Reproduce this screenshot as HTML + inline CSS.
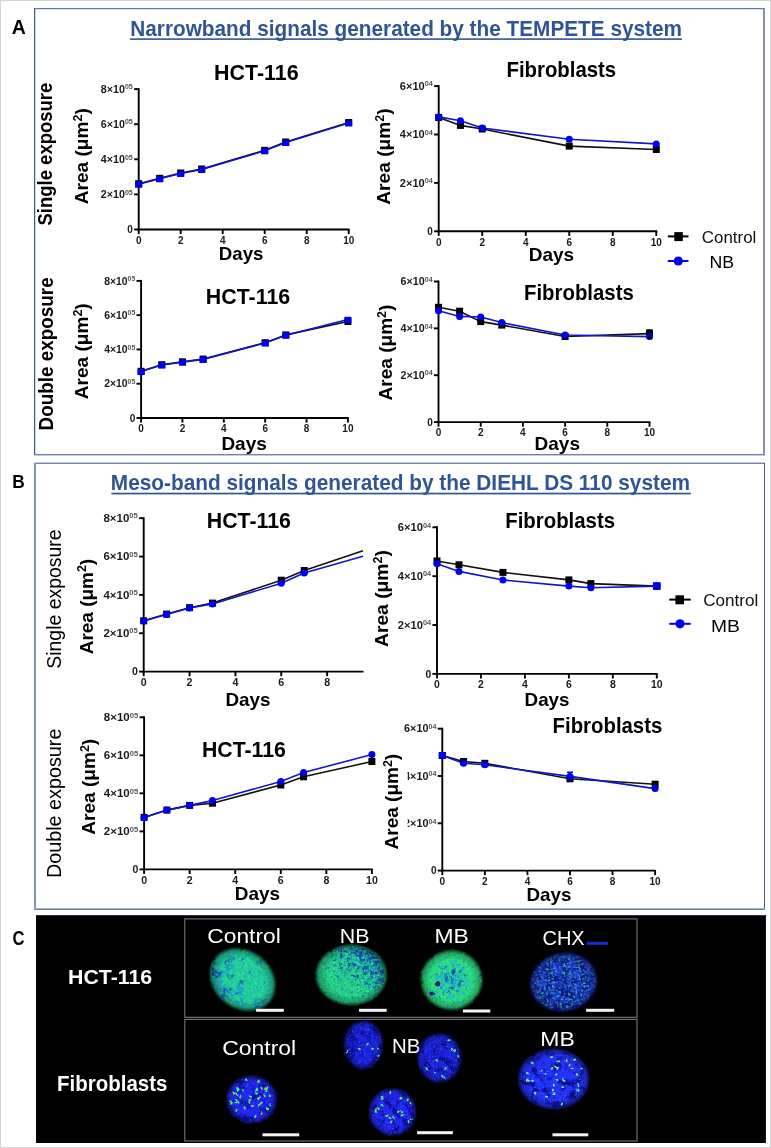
<!DOCTYPE html><html><head><meta charset="utf-8"><style>html,body{margin:0;padding:0;background:#fff;} svg{display:block;will-change:transform;} text{font-family:"Liberation Sans", sans-serif;}</style></head><body>
<svg width="771" height="1148" viewBox="0 0 771 1148">
<rect x="0" y="0" width="771" height="1148" fill="#fff"/>
<rect x="0.5" y="0.5" width="770" height="1147" fill="none" stroke="#d4d4d4" stroke-width="1"/>
<rect x="34" y="8" width="731" height="1" fill="#6a7a9a"/>
<rect x="35" y="9" width="728" height="1" fill="#d0dcf0"/>
<rect x="34" y="8" width="1" height="447" fill="#4a5878"/>
<rect x="35" y="9" width="1" height="445" fill="#c8d6f0"/>
<rect x="763" y="8" width="2" height="447" fill="#8890a8"/>
<rect x="34" y="454" width="731" height="1" fill="#7484a6"/>
<rect x="34" y="455" width="731" height="1" fill="#c0cce4"/>
<rect x="34" y="462" width="731" height="1" fill="#c0cce4"/>
<rect x="34" y="463" width="731" height="1" fill="#7585a5"/>
<rect x="34" y="463" width="2" height="447" fill="#8292b8"/>
<rect x="764" y="463" width="1" height="447" fill="#4a5878"/>
<rect x="34" y="908" width="731" height="1" fill="#a0b0d0"/>
<rect x="34" y="909" width="731" height="1" fill="#6e7ea0"/>
<text x="11.80" y="33.60" font-size="19.5" font-weight="bold" fill="#000" text-anchor="start" >A</text>
<text x="12.30" y="487.80" font-size="19" font-weight="bold" fill="#000" text-anchor="start" textLength="12.50" lengthAdjust="spacingAndGlyphs" >B</text>
<text x="12.60" y="945.40" font-size="19.5" font-weight="bold" fill="#000" text-anchor="start" textLength="12.00" lengthAdjust="spacingAndGlyphs" >C</text>
<text x="130.30" y="35.80" font-size="22.3" font-weight="bold" fill="#2f5597" text-anchor="start" textLength="551.70" lengthAdjust="spacingAndGlyphs" >Narrowband signals generated by the TEMPETE system</text>
<rect x="130" y="38.3" width="552" height="1.6" fill="#2f5597"/>
<text x="110.80" y="490.00" font-size="22.3" font-weight="bold" fill="#2f5597" text-anchor="start" textLength="579.20" lengthAdjust="spacingAndGlyphs" >Meso-band signals generated by the DIEHL DS 110 system</text>
<rect x="111.4" y="492.7" width="579.3" height="1.7" fill="#2f5597"/>
<line x1="138.70" y1="88.15" x2="138.70" y2="230.45" stroke="#000" stroke-width="1.9"/>
<line x1="137.75" y1="229.50" x2="349.65" y2="229.50" stroke="#000" stroke-width="1.9"/>
<line x1="134.10" y1="229.50" x2="138.70" y2="229.50" stroke="#000" stroke-width="1.9"/>
<line x1="134.10" y1="194.40" x2="138.70" y2="194.40" stroke="#000" stroke-width="1.9"/>
<line x1="134.10" y1="159.30" x2="138.70" y2="159.30" stroke="#000" stroke-width="1.9"/>
<line x1="134.10" y1="124.20" x2="138.70" y2="124.20" stroke="#000" stroke-width="1.9"/>
<line x1="134.10" y1="89.10" x2="138.70" y2="89.10" stroke="#000" stroke-width="1.9"/>
<line x1="138.70" y1="229.50" x2="138.70" y2="234.10" stroke="#000" stroke-width="1.9"/>
<line x1="180.70" y1="229.50" x2="180.70" y2="234.10" stroke="#000" stroke-width="1.9"/>
<line x1="222.70" y1="229.50" x2="222.70" y2="234.10" stroke="#000" stroke-width="1.9"/>
<line x1="264.70" y1="229.50" x2="264.70" y2="234.10" stroke="#000" stroke-width="1.9"/>
<line x1="306.70" y1="229.50" x2="306.70" y2="234.10" stroke="#000" stroke-width="1.9"/>
<line x1="348.70" y1="229.50" x2="348.70" y2="234.10" stroke="#000" stroke-width="1.9"/>
<text x="138.70" y="243.70" font-size="10" font-weight="bold" fill="#1a1a1a" text-anchor="middle" >0</text>
<text x="180.70" y="243.70" font-size="10" font-weight="bold" fill="#1a1a1a" text-anchor="middle" >2</text>
<text x="222.70" y="243.70" font-size="10" font-weight="bold" fill="#1a1a1a" text-anchor="middle" >4</text>
<text x="264.70" y="243.70" font-size="10" font-weight="bold" fill="#1a1a1a" text-anchor="middle" >6</text>
<text x="306.70" y="243.70" font-size="10" font-weight="bold" fill="#1a1a1a" text-anchor="middle" >8</text>
<text x="348.70" y="243.70" font-size="10" font-weight="bold" fill="#1a1a1a" text-anchor="middle" >10</text>
<text x="132.90" y="233.10" font-size="10" font-weight="bold" fill="#1a1a1a" text-anchor="end" >0</text>
<text x="100.80" y="198.00" font-size="10" font-weight="bold" fill="#1a1a1a" textLength="32.00" lengthAdjust="spacingAndGlyphs">2×10<tspan font-size="6.60" font-weight="bold" fill="#555" dy="-3.4">05</tspan></text>
<text x="100.80" y="162.90" font-size="10" font-weight="bold" fill="#1a1a1a" textLength="32.00" lengthAdjust="spacingAndGlyphs">4×10<tspan font-size="6.60" font-weight="bold" fill="#555" dy="-3.4">05</tspan></text>
<text x="100.80" y="127.80" font-size="10" font-weight="bold" fill="#1a1a1a" textLength="32.00" lengthAdjust="spacingAndGlyphs">6×10<tspan font-size="6.60" font-weight="bold" fill="#555" dy="-3.4">05</tspan></text>
<text x="100.80" y="92.70" font-size="10" font-weight="bold" fill="#1a1a1a" textLength="32.00" lengthAdjust="spacingAndGlyphs">8×10<tspan font-size="6.60" font-weight="bold" fill="#555" dy="-3.4">05</tspan></text>
<line x1="438.70" y1="85.15" x2="438.70" y2="232.25" stroke="#000" stroke-width="1.9"/>
<line x1="437.75" y1="231.30" x2="657.25" y2="231.30" stroke="#000" stroke-width="1.9"/>
<line x1="434.10" y1="231.30" x2="438.70" y2="231.30" stroke="#000" stroke-width="1.9"/>
<line x1="434.10" y1="182.90" x2="438.70" y2="182.90" stroke="#000" stroke-width="1.9"/>
<line x1="434.10" y1="134.50" x2="438.70" y2="134.50" stroke="#000" stroke-width="1.9"/>
<line x1="434.10" y1="86.10" x2="438.70" y2="86.10" stroke="#000" stroke-width="1.9"/>
<line x1="438.70" y1="231.30" x2="438.70" y2="235.90" stroke="#000" stroke-width="1.9"/>
<line x1="482.22" y1="231.30" x2="482.22" y2="235.90" stroke="#000" stroke-width="1.9"/>
<line x1="525.74" y1="231.30" x2="525.74" y2="235.90" stroke="#000" stroke-width="1.9"/>
<line x1="569.26" y1="231.30" x2="569.26" y2="235.90" stroke="#000" stroke-width="1.9"/>
<line x1="612.78" y1="231.30" x2="612.78" y2="235.90" stroke="#000" stroke-width="1.9"/>
<line x1="656.30" y1="231.30" x2="656.30" y2="235.90" stroke="#000" stroke-width="1.9"/>
<text x="438.70" y="245.50" font-size="10" font-weight="bold" fill="#1a1a1a" text-anchor="middle" >0</text>
<text x="482.22" y="245.50" font-size="10" font-weight="bold" fill="#1a1a1a" text-anchor="middle" >2</text>
<text x="525.74" y="245.50" font-size="10" font-weight="bold" fill="#1a1a1a" text-anchor="middle" >4</text>
<text x="569.26" y="245.50" font-size="10" font-weight="bold" fill="#1a1a1a" text-anchor="middle" >6</text>
<text x="612.78" y="245.50" font-size="10" font-weight="bold" fill="#1a1a1a" text-anchor="middle" >8</text>
<text x="656.30" y="245.50" font-size="10" font-weight="bold" fill="#1a1a1a" text-anchor="middle" >10</text>
<text x="432.90" y="234.90" font-size="10" font-weight="bold" fill="#1a1a1a" text-anchor="end" >0</text>
<text x="399.80" y="186.50" font-size="10" font-weight="bold" fill="#1a1a1a" textLength="33.00" lengthAdjust="spacingAndGlyphs">2×10<tspan font-size="6.60" font-weight="bold" fill="#555" dy="-3.4">04</tspan></text>
<text x="399.80" y="138.10" font-size="10" font-weight="bold" fill="#1a1a1a" textLength="33.00" lengthAdjust="spacingAndGlyphs">4×10<tspan font-size="6.60" font-weight="bold" fill="#555" dy="-3.4">04</tspan></text>
<text x="399.80" y="89.70" font-size="10" font-weight="bold" fill="#1a1a1a" textLength="33.00" lengthAdjust="spacingAndGlyphs">6×10<tspan font-size="6.60" font-weight="bold" fill="#555" dy="-3.4">04</tspan></text>
<line x1="141.10" y1="279.95" x2="141.10" y2="418.95" stroke="#000" stroke-width="1.9"/>
<line x1="140.15" y1="418.00" x2="348.85" y2="418.00" stroke="#000" stroke-width="1.9"/>
<line x1="136.50" y1="418.00" x2="141.10" y2="418.00" stroke="#000" stroke-width="1.9"/>
<line x1="136.50" y1="383.73" x2="141.10" y2="383.73" stroke="#000" stroke-width="1.9"/>
<line x1="136.50" y1="349.45" x2="141.10" y2="349.45" stroke="#000" stroke-width="1.9"/>
<line x1="136.50" y1="315.17" x2="141.10" y2="315.17" stroke="#000" stroke-width="1.9"/>
<line x1="136.50" y1="280.90" x2="141.10" y2="280.90" stroke="#000" stroke-width="1.9"/>
<line x1="141.10" y1="418.00" x2="141.10" y2="422.60" stroke="#000" stroke-width="1.9"/>
<line x1="182.46" y1="418.00" x2="182.46" y2="422.60" stroke="#000" stroke-width="1.9"/>
<line x1="223.82" y1="418.00" x2="223.82" y2="422.60" stroke="#000" stroke-width="1.9"/>
<line x1="265.18" y1="418.00" x2="265.18" y2="422.60" stroke="#000" stroke-width="1.9"/>
<line x1="306.54" y1="418.00" x2="306.54" y2="422.60" stroke="#000" stroke-width="1.9"/>
<line x1="347.90" y1="418.00" x2="347.90" y2="422.60" stroke="#000" stroke-width="1.9"/>
<text x="141.10" y="432.20" font-size="10" font-weight="bold" fill="#1a1a1a" text-anchor="middle" >0</text>
<text x="182.46" y="432.20" font-size="10" font-weight="bold" fill="#1a1a1a" text-anchor="middle" >2</text>
<text x="223.82" y="432.20" font-size="10" font-weight="bold" fill="#1a1a1a" text-anchor="middle" >4</text>
<text x="265.18" y="432.20" font-size="10" font-weight="bold" fill="#1a1a1a" text-anchor="middle" >6</text>
<text x="306.54" y="432.20" font-size="10" font-weight="bold" fill="#1a1a1a" text-anchor="middle" >8</text>
<text x="347.90" y="432.20" font-size="10" font-weight="bold" fill="#1a1a1a" text-anchor="middle" >10</text>
<text x="135.30" y="421.60" font-size="10" font-weight="bold" fill="#1a1a1a" text-anchor="end" >0</text>
<text x="104.20" y="387.33" font-size="10" font-weight="bold" fill="#1a1a1a" textLength="31.00" lengthAdjust="spacingAndGlyphs">2×10<tspan font-size="6.60" font-weight="bold" fill="#555" dy="-3.4">05</tspan></text>
<text x="104.20" y="353.05" font-size="10" font-weight="bold" fill="#1a1a1a" textLength="31.00" lengthAdjust="spacingAndGlyphs">4×10<tspan font-size="6.60" font-weight="bold" fill="#555" dy="-3.4">05</tspan></text>
<text x="104.20" y="318.77" font-size="10" font-weight="bold" fill="#1a1a1a" textLength="31.00" lengthAdjust="spacingAndGlyphs">6×10<tspan font-size="6.60" font-weight="bold" fill="#555" dy="-3.4">05</tspan></text>
<text x="104.20" y="284.50" font-size="10" font-weight="bold" fill="#1a1a1a" textLength="31.00" lengthAdjust="spacingAndGlyphs">8×10<tspan font-size="6.60" font-weight="bold" fill="#555" dy="-3.4">05</tspan></text>
<line x1="438.50" y1="280.55" x2="438.50" y2="423.05" stroke="#000" stroke-width="1.9"/>
<line x1="437.55" y1="422.10" x2="650.45" y2="422.10" stroke="#000" stroke-width="1.9"/>
<line x1="433.90" y1="422.10" x2="438.50" y2="422.10" stroke="#000" stroke-width="1.9"/>
<line x1="433.90" y1="375.23" x2="438.50" y2="375.23" stroke="#000" stroke-width="1.9"/>
<line x1="433.90" y1="328.37" x2="438.50" y2="328.37" stroke="#000" stroke-width="1.9"/>
<line x1="433.90" y1="281.50" x2="438.50" y2="281.50" stroke="#000" stroke-width="1.9"/>
<line x1="438.50" y1="422.10" x2="438.50" y2="426.70" stroke="#000" stroke-width="1.9"/>
<line x1="480.70" y1="422.10" x2="480.70" y2="426.70" stroke="#000" stroke-width="1.9"/>
<line x1="522.90" y1="422.10" x2="522.90" y2="426.70" stroke="#000" stroke-width="1.9"/>
<line x1="565.10" y1="422.10" x2="565.10" y2="426.70" stroke="#000" stroke-width="1.9"/>
<line x1="607.30" y1="422.10" x2="607.30" y2="426.70" stroke="#000" stroke-width="1.9"/>
<line x1="649.50" y1="422.10" x2="649.50" y2="426.70" stroke="#000" stroke-width="1.9"/>
<text x="438.50" y="436.30" font-size="10" font-weight="bold" fill="#1a1a1a" text-anchor="middle" >0</text>
<text x="480.70" y="436.30" font-size="10" font-weight="bold" fill="#1a1a1a" text-anchor="middle" >2</text>
<text x="522.90" y="436.30" font-size="10" font-weight="bold" fill="#1a1a1a" text-anchor="middle" >4</text>
<text x="565.10" y="436.30" font-size="10" font-weight="bold" fill="#1a1a1a" text-anchor="middle" >6</text>
<text x="607.30" y="436.30" font-size="10" font-weight="bold" fill="#1a1a1a" text-anchor="middle" >8</text>
<text x="649.50" y="436.30" font-size="10" font-weight="bold" fill="#1a1a1a" text-anchor="middle" >10</text>
<text x="432.70" y="425.70" font-size="10" font-weight="bold" fill="#1a1a1a" text-anchor="end" >0</text>
<text x="400.60" y="378.83" font-size="10" font-weight="bold" fill="#1a1a1a" textLength="32.00" lengthAdjust="spacingAndGlyphs">2×10<tspan font-size="6.60" font-weight="bold" fill="#555" dy="-3.4">04</tspan></text>
<text x="400.60" y="331.97" font-size="10" font-weight="bold" fill="#1a1a1a" textLength="32.00" lengthAdjust="spacingAndGlyphs">4×10<tspan font-size="6.60" font-weight="bold" fill="#555" dy="-3.4">04</tspan></text>
<text x="400.60" y="285.10" font-size="10" font-weight="bold" fill="#1a1a1a" textLength="32.00" lengthAdjust="spacingAndGlyphs">6×10<tspan font-size="6.60" font-weight="bold" fill="#555" dy="-3.4">04</tspan></text>
<line x1="143.70" y1="517.25" x2="143.70" y2="672.55" stroke="#000" stroke-width="1.9"/>
<line x1="142.75" y1="671.60" x2="363.55" y2="671.60" stroke="#000" stroke-width="1.9"/>
<line x1="139.10" y1="671.60" x2="143.70" y2="671.60" stroke="#000" stroke-width="1.9"/>
<line x1="139.10" y1="633.25" x2="143.70" y2="633.25" stroke="#000" stroke-width="1.9"/>
<line x1="139.10" y1="594.90" x2="143.70" y2="594.90" stroke="#000" stroke-width="1.9"/>
<line x1="139.10" y1="556.55" x2="143.70" y2="556.55" stroke="#000" stroke-width="1.9"/>
<line x1="139.10" y1="518.20" x2="143.70" y2="518.20" stroke="#000" stroke-width="1.9"/>
<line x1="143.70" y1="671.60" x2="143.70" y2="676.20" stroke="#000" stroke-width="1.9"/>
<line x1="189.56" y1="671.60" x2="189.56" y2="676.20" stroke="#000" stroke-width="1.9"/>
<line x1="235.42" y1="671.60" x2="235.42" y2="676.20" stroke="#000" stroke-width="1.9"/>
<line x1="281.28" y1="671.60" x2="281.28" y2="676.20" stroke="#000" stroke-width="1.9"/>
<line x1="327.14" y1="671.60" x2="327.14" y2="676.20" stroke="#000" stroke-width="1.9"/>
<text x="143.70" y="685.80" font-size="10.6" font-weight="bold" fill="#1a1a1a" text-anchor="middle" >0</text>
<text x="189.56" y="685.80" font-size="10.6" font-weight="bold" fill="#1a1a1a" text-anchor="middle" >2</text>
<text x="235.42" y="685.80" font-size="10.6" font-weight="bold" fill="#1a1a1a" text-anchor="middle" >4</text>
<text x="281.28" y="685.80" font-size="10.6" font-weight="bold" fill="#1a1a1a" text-anchor="middle" >6</text>
<text x="327.14" y="685.80" font-size="10.6" font-weight="bold" fill="#1a1a1a" text-anchor="middle" >8</text>
<text x="137.90" y="675.20" font-size="10.6" font-weight="bold" fill="#1a1a1a" text-anchor="end" >0</text>
<text x="103.40" y="636.85" font-size="10.6" font-weight="bold" fill="#1a1a1a" textLength="34.40" lengthAdjust="spacingAndGlyphs">2×10<tspan font-size="7.00" font-weight="bold" fill="#555" dy="-3.4">05</tspan></text>
<text x="103.40" y="598.50" font-size="10.6" font-weight="bold" fill="#1a1a1a" textLength="34.40" lengthAdjust="spacingAndGlyphs">4×10<tspan font-size="7.00" font-weight="bold" fill="#555" dy="-3.4">05</tspan></text>
<text x="103.40" y="560.15" font-size="10.6" font-weight="bold" fill="#1a1a1a" textLength="34.40" lengthAdjust="spacingAndGlyphs">6×10<tspan font-size="7.00" font-weight="bold" fill="#555" dy="-3.4">05</tspan></text>
<text x="103.40" y="521.80" font-size="10.6" font-weight="bold" fill="#1a1a1a" textLength="34.40" lengthAdjust="spacingAndGlyphs">8×10<tspan font-size="7.00" font-weight="bold" fill="#555" dy="-3.4">05</tspan></text>
<line x1="437.00" y1="526.35" x2="437.00" y2="674.85" stroke="#000" stroke-width="1.9"/>
<line x1="436.05" y1="673.90" x2="657.75" y2="673.90" stroke="#000" stroke-width="1.9"/>
<line x1="432.40" y1="673.90" x2="437.00" y2="673.90" stroke="#000" stroke-width="1.9"/>
<line x1="432.40" y1="625.03" x2="437.00" y2="625.03" stroke="#000" stroke-width="1.9"/>
<line x1="432.40" y1="576.17" x2="437.00" y2="576.17" stroke="#000" stroke-width="1.9"/>
<line x1="432.40" y1="527.30" x2="437.00" y2="527.30" stroke="#000" stroke-width="1.9"/>
<line x1="437.00" y1="673.90" x2="437.00" y2="678.50" stroke="#000" stroke-width="1.9"/>
<line x1="480.96" y1="673.90" x2="480.96" y2="678.50" stroke="#000" stroke-width="1.9"/>
<line x1="524.92" y1="673.90" x2="524.92" y2="678.50" stroke="#000" stroke-width="1.9"/>
<line x1="568.88" y1="673.90" x2="568.88" y2="678.50" stroke="#000" stroke-width="1.9"/>
<line x1="612.84" y1="673.90" x2="612.84" y2="678.50" stroke="#000" stroke-width="1.9"/>
<line x1="656.80" y1="673.90" x2="656.80" y2="678.50" stroke="#000" stroke-width="1.9"/>
<text x="437.00" y="688.10" font-size="10.4" font-weight="bold" fill="#1a1a1a" text-anchor="middle" >0</text>
<text x="480.96" y="688.10" font-size="10.4" font-weight="bold" fill="#1a1a1a" text-anchor="middle" >2</text>
<text x="524.92" y="688.10" font-size="10.4" font-weight="bold" fill="#1a1a1a" text-anchor="middle" >4</text>
<text x="568.88" y="688.10" font-size="10.4" font-weight="bold" fill="#1a1a1a" text-anchor="middle" >6</text>
<text x="612.84" y="688.10" font-size="10.4" font-weight="bold" fill="#1a1a1a" text-anchor="middle" >8</text>
<text x="656.80" y="688.10" font-size="10.4" font-weight="bold" fill="#1a1a1a" text-anchor="middle" >10</text>
<text x="431.20" y="677.50" font-size="10.4" font-weight="bold" fill="#1a1a1a" text-anchor="end" >0</text>
<text x="397.80" y="628.63" font-size="10.4" font-weight="bold" fill="#1a1a1a" textLength="33.30" lengthAdjust="spacingAndGlyphs">2×10<tspan font-size="6.86" font-weight="bold" fill="#555" dy="-3.4">04</tspan></text>
<text x="397.80" y="579.77" font-size="10.4" font-weight="bold" fill="#1a1a1a" textLength="33.30" lengthAdjust="spacingAndGlyphs">4×10<tspan font-size="6.86" font-weight="bold" fill="#555" dy="-3.4">04</tspan></text>
<text x="397.80" y="530.90" font-size="10.4" font-weight="bold" fill="#1a1a1a" textLength="33.30" lengthAdjust="spacingAndGlyphs">6×10<tspan font-size="6.86" font-weight="bold" fill="#555" dy="-3.4">04</tspan></text>
<line x1="144.10" y1="716.35" x2="144.10" y2="870.35" stroke="#000" stroke-width="1.9"/>
<line x1="143.15" y1="869.40" x2="372.85" y2="869.40" stroke="#000" stroke-width="1.9"/>
<line x1="139.50" y1="869.40" x2="144.10" y2="869.40" stroke="#000" stroke-width="1.9"/>
<line x1="139.50" y1="831.38" x2="144.10" y2="831.38" stroke="#000" stroke-width="1.9"/>
<line x1="139.50" y1="793.35" x2="144.10" y2="793.35" stroke="#000" stroke-width="1.9"/>
<line x1="139.50" y1="755.32" x2="144.10" y2="755.32" stroke="#000" stroke-width="1.9"/>
<line x1="139.50" y1="717.30" x2="144.10" y2="717.30" stroke="#000" stroke-width="1.9"/>
<line x1="144.10" y1="869.40" x2="144.10" y2="874.00" stroke="#000" stroke-width="1.9"/>
<line x1="189.66" y1="869.40" x2="189.66" y2="874.00" stroke="#000" stroke-width="1.9"/>
<line x1="235.22" y1="869.40" x2="235.22" y2="874.00" stroke="#000" stroke-width="1.9"/>
<line x1="280.78" y1="869.40" x2="280.78" y2="874.00" stroke="#000" stroke-width="1.9"/>
<line x1="326.34" y1="869.40" x2="326.34" y2="874.00" stroke="#000" stroke-width="1.9"/>
<line x1="371.90" y1="869.40" x2="371.90" y2="874.00" stroke="#000" stroke-width="1.9"/>
<text x="144.10" y="883.60" font-size="10.6" font-weight="bold" fill="#1a1a1a" text-anchor="middle" >0</text>
<text x="189.66" y="883.60" font-size="10.6" font-weight="bold" fill="#1a1a1a" text-anchor="middle" >2</text>
<text x="235.22" y="883.60" font-size="10.6" font-weight="bold" fill="#1a1a1a" text-anchor="middle" >4</text>
<text x="280.78" y="883.60" font-size="10.6" font-weight="bold" fill="#1a1a1a" text-anchor="middle" >6</text>
<text x="326.34" y="883.60" font-size="10.6" font-weight="bold" fill="#1a1a1a" text-anchor="middle" >8</text>
<text x="371.90" y="883.60" font-size="10.6" font-weight="bold" fill="#1a1a1a" text-anchor="middle" >10</text>
<text x="138.30" y="873.00" font-size="10.6" font-weight="bold" fill="#1a1a1a" text-anchor="end" >0</text>
<text x="103.80" y="834.98" font-size="10.6" font-weight="bold" fill="#1a1a1a" textLength="34.40" lengthAdjust="spacingAndGlyphs">2×10<tspan font-size="7.00" font-weight="bold" fill="#555" dy="-3.4">05</tspan></text>
<text x="103.80" y="796.95" font-size="10.6" font-weight="bold" fill="#1a1a1a" textLength="34.40" lengthAdjust="spacingAndGlyphs">4×10<tspan font-size="7.00" font-weight="bold" fill="#555" dy="-3.4">05</tspan></text>
<text x="103.80" y="758.92" font-size="10.6" font-weight="bold" fill="#1a1a1a" textLength="34.40" lengthAdjust="spacingAndGlyphs">6×10<tspan font-size="7.00" font-weight="bold" fill="#555" dy="-3.4">05</tspan></text>
<text x="103.80" y="720.90" font-size="10.6" font-weight="bold" fill="#1a1a1a" textLength="34.40" lengthAdjust="spacingAndGlyphs">8×10<tspan font-size="7.00" font-weight="bold" fill="#555" dy="-3.4">05</tspan></text>
<line x1="442.30" y1="727.75" x2="442.30" y2="871.55" stroke="#000" stroke-width="1.9"/>
<line x1="441.35" y1="870.60" x2="656.05" y2="870.60" stroke="#000" stroke-width="1.9"/>
<line x1="437.70" y1="870.60" x2="442.30" y2="870.60" stroke="#000" stroke-width="1.9"/>
<line x1="437.70" y1="823.30" x2="442.30" y2="823.30" stroke="#000" stroke-width="1.9"/>
<line x1="437.70" y1="776.00" x2="442.30" y2="776.00" stroke="#000" stroke-width="1.9"/>
<line x1="437.70" y1="728.70" x2="442.30" y2="728.70" stroke="#000" stroke-width="1.9"/>
<line x1="442.30" y1="870.60" x2="442.30" y2="875.20" stroke="#000" stroke-width="1.9"/>
<line x1="484.86" y1="870.60" x2="484.86" y2="875.20" stroke="#000" stroke-width="1.9"/>
<line x1="527.42" y1="870.60" x2="527.42" y2="875.20" stroke="#000" stroke-width="1.9"/>
<line x1="569.98" y1="870.60" x2="569.98" y2="875.20" stroke="#000" stroke-width="1.9"/>
<line x1="612.54" y1="870.60" x2="612.54" y2="875.20" stroke="#000" stroke-width="1.9"/>
<line x1="655.10" y1="870.60" x2="655.10" y2="875.20" stroke="#000" stroke-width="1.9"/>
<text x="442.30" y="884.80" font-size="10" font-weight="bold" fill="#1a1a1a" text-anchor="middle" >0</text>
<text x="484.86" y="884.80" font-size="10" font-weight="bold" fill="#1a1a1a" text-anchor="middle" >2</text>
<text x="527.42" y="884.80" font-size="10" font-weight="bold" fill="#1a1a1a" text-anchor="middle" >4</text>
<text x="569.98" y="884.80" font-size="10" font-weight="bold" fill="#1a1a1a" text-anchor="middle" >6</text>
<text x="612.54" y="884.80" font-size="10" font-weight="bold" fill="#1a1a1a" text-anchor="middle" >8</text>
<text x="655.10" y="884.80" font-size="10" font-weight="bold" fill="#1a1a1a" text-anchor="middle" >10</text>
<text x="436.50" y="874.20" font-size="10" font-weight="bold" fill="#1a1a1a" text-anchor="end" >0</text>
<text x="404.10" y="826.90" font-size="10" font-weight="bold" fill="#1a1a1a" textLength="32.30" lengthAdjust="spacingAndGlyphs">2×10<tspan font-size="6.60" font-weight="bold" fill="#555" dy="-3.4">04</tspan></text>
<text x="404.10" y="779.60" font-size="10" font-weight="bold" fill="#1a1a1a" textLength="32.30" lengthAdjust="spacingAndGlyphs">4×10<tspan font-size="6.60" font-weight="bold" fill="#555" dy="-3.4">04</tspan></text>
<text x="404.10" y="732.30" font-size="10" font-weight="bold" fill="#1a1a1a" textLength="32.30" lengthAdjust="spacingAndGlyphs">6×10<tspan font-size="6.60" font-weight="bold" fill="#555" dy="-3.4">04</tspan></text>
<polyline points="138.70,183.70 159.70,178.30 180.70,173.00 201.70,169.00 264.70,150.30 285.70,142.00 348.70,122.50" fill="none" stroke="#111" stroke-width="1.6" stroke-linejoin="round"/>
<polyline points="138.70,184.20 159.70,178.80 180.70,173.50 201.70,169.50 264.70,150.80 285.70,142.50 348.70,123.00" fill="none" stroke="#1414c8" stroke-width="1.6" stroke-linejoin="round"/>
<rect x="135.20" y="180.20" width="7" height="7" fill="#000"/>
<rect x="156.20" y="174.80" width="7" height="7" fill="#000"/>
<rect x="177.20" y="169.50" width="7" height="7" fill="#000"/>
<rect x="198.20" y="165.50" width="7" height="7" fill="#000"/>
<rect x="261.20" y="146.80" width="7" height="7" fill="#000"/>
<rect x="282.20" y="138.50" width="7" height="7" fill="#000"/>
<rect x="345.20" y="119.00" width="7" height="7" fill="#000"/>
<rect x="135.20" y="181.50" width="7" height="6.2" fill="#0000f0"/>
<rect x="156.20" y="176.10" width="7" height="6.2" fill="#0000f0"/>
<rect x="177.20" y="170.80" width="7" height="6.2" fill="#0000f0"/>
<rect x="198.20" y="166.80" width="7" height="6.2" fill="#0000f0"/>
<rect x="261.20" y="148.10" width="7" height="6.2" fill="#0000f0"/>
<rect x="282.20" y="139.80" width="7" height="6.2" fill="#0000f0"/>
<rect x="345.20" y="120.30" width="7" height="6.2" fill="#0000f0"/>
<polyline points="438.70,117.50 460.46,125.40 482.22,129.00 569.26,146.10 656.30,149.50" fill="none" stroke="#111" stroke-width="1.6" stroke-linejoin="round"/>
<polyline points="438.70,116.90 460.46,120.80 482.22,128.00 569.26,139.30 656.30,143.90" fill="none" stroke="#1414c8" stroke-width="1.6" stroke-linejoin="round"/>
<rect x="435.20" y="114.00" width="7" height="7" fill="#000"/>
<rect x="456.96" y="121.90" width="7" height="7" fill="#000"/>
<rect x="478.72" y="125.50" width="7" height="7" fill="#000"/>
<rect x="565.76" y="142.60" width="7" height="7" fill="#000"/>
<rect x="652.80" y="146.00" width="7" height="7" fill="#000"/>
<circle cx="438.70" cy="116.90" r="3.50" fill="#0000f0"/>
<circle cx="460.46" cy="120.80" r="3.50" fill="#0000f0"/>
<circle cx="482.22" cy="128.00" r="3.50" fill="#0000f0"/>
<circle cx="569.26" cy="139.30" r="3.50" fill="#0000f0"/>
<circle cx="656.30" cy="143.90" r="3.50" fill="#0000f0"/>
<polyline points="141.10,371.30 161.78,364.70 182.46,361.80 203.14,359.10 265.18,342.70 285.86,334.90 347.90,321.50" fill="none" stroke="#111" stroke-width="1.6" stroke-linejoin="round"/>
<polyline points="141.10,371.60 161.78,365.00 182.46,362.10 203.14,359.40 265.18,343.00 285.86,335.20 347.90,319.50" fill="none" stroke="#1414c8" stroke-width="1.6" stroke-linejoin="round"/>
<rect x="137.60" y="367.80" width="7" height="7" fill="#000"/>
<rect x="158.28" y="361.20" width="7" height="7" fill="#000"/>
<rect x="178.96" y="358.30" width="7" height="7" fill="#000"/>
<rect x="199.64" y="355.60" width="7" height="7" fill="#000"/>
<rect x="261.68" y="339.20" width="7" height="7" fill="#000"/>
<rect x="282.36" y="331.40" width="7" height="7" fill="#000"/>
<rect x="344.40" y="318.00" width="7" height="7" fill="#000"/>
<rect x="137.60" y="368.90" width="7" height="6.2" fill="#0000f0"/>
<rect x="158.28" y="362.30" width="7" height="6.2" fill="#0000f0"/>
<rect x="178.96" y="359.40" width="7" height="6.2" fill="#0000f0"/>
<rect x="199.64" y="356.70" width="7" height="6.2" fill="#0000f0"/>
<rect x="261.68" y="340.30" width="7" height="6.2" fill="#0000f0"/>
<rect x="282.36" y="332.50" width="7" height="6.2" fill="#0000f0"/>
<rect x="344.40" y="316.80" width="7" height="6.2" fill="#0000f0"/>
<polyline points="438.50,307.30 459.60,311.20 480.70,321.60 501.80,325.10 565.10,336.50 649.50,333.60" fill="none" stroke="#111" stroke-width="1.6" stroke-linejoin="round"/>
<polyline points="438.50,310.80 459.60,316.40 480.70,317.00 501.80,322.60 565.10,335.00 649.50,336.60" fill="none" stroke="#1414c8" stroke-width="1.6" stroke-linejoin="round"/>
<rect x="435.00" y="303.80" width="7" height="7" fill="#000"/>
<rect x="456.10" y="307.70" width="7" height="7" fill="#000"/>
<rect x="477.20" y="318.10" width="7" height="7" fill="#000"/>
<rect x="498.30" y="321.60" width="7" height="7" fill="#000"/>
<rect x="561.60" y="333.00" width="7" height="7" fill="#000"/>
<rect x="646.00" y="330.10" width="7" height="7" fill="#000"/>
<circle cx="438.50" cy="310.80" r="3.50" fill="#0000f0"/>
<circle cx="459.60" cy="316.40" r="3.50" fill="#0000f0"/>
<circle cx="480.70" cy="317.00" r="3.50" fill="#0000f0"/>
<circle cx="501.80" cy="322.60" r="3.50" fill="#0000f0"/>
<circle cx="565.10" cy="335.00" r="3.50" fill="#0000f0"/>
<circle cx="649.50" cy="336.60" r="3.50" fill="#0000f0"/>
<path d="M646.50,329.9 H652.50 M649.50,329.9 V338 M646.50,338 H652.50" stroke="#000" stroke-width="1.4" fill="none"/>
<polyline points="143.70,620.80 166.63,614.10 189.56,607.70 212.49,603.10 281.28,580.20 304.21,570.50 363.00,550.70" fill="none" stroke="#111" stroke-width="1.6" stroke-linejoin="round"/>
<polyline points="143.70,621.00 166.63,614.40 189.56,608.00 212.49,604.00 281.28,583.30 304.21,572.90 363.00,556.20" fill="none" stroke="#1414c8" stroke-width="1.6" stroke-linejoin="round"/>
<rect x="140.20" y="617.30" width="7" height="7" fill="#000"/>
<rect x="163.13" y="610.60" width="7" height="7" fill="#000"/>
<rect x="186.06" y="604.20" width="7" height="7" fill="#000"/>
<rect x="208.99" y="599.60" width="7" height="7" fill="#000"/>
<rect x="277.78" y="576.70" width="7" height="7" fill="#000"/>
<rect x="300.71" y="567.00" width="7" height="7" fill="#000"/>
<circle cx="143.70" cy="621.00" r="3.50" fill="#0000f0"/>
<circle cx="166.63" cy="614.40" r="3.50" fill="#0000f0"/>
<circle cx="189.56" cy="608.00" r="3.50" fill="#0000f0"/>
<circle cx="212.49" cy="604.00" r="3.50" fill="#0000f0"/>
<circle cx="281.28" cy="583.30" r="3.50" fill="#0000f0"/>
<circle cx="304.21" cy="572.90" r="3.50" fill="#0000f0"/>
<polyline points="437.00,561.00 458.98,564.80 502.94,572.40 568.88,579.90 590.86,583.60 656.80,586.10" fill="none" stroke="#111" stroke-width="1.6" stroke-linejoin="round"/>
<polyline points="437.00,563.80 458.98,571.40 502.94,580.00 568.88,586.10 590.86,587.80 656.80,586.10" fill="none" stroke="#1414c8" stroke-width="1.6" stroke-linejoin="round"/>
<rect x="433.50" y="557.50" width="7" height="7" fill="#000"/>
<rect x="455.48" y="561.30" width="7" height="7" fill="#000"/>
<rect x="499.44" y="568.90" width="7" height="7" fill="#000"/>
<rect x="565.38" y="576.40" width="7" height="7" fill="#000"/>
<rect x="587.36" y="580.10" width="7" height="7" fill="#000"/>
<rect x="653.30" y="582.60" width="7" height="7" fill="#000"/>
<circle cx="437.00" cy="563.80" r="3.50" fill="#0000f0"/>
<circle cx="458.98" cy="571.40" r="3.50" fill="#0000f0"/>
<circle cx="502.94" cy="580.00" r="3.50" fill="#0000f0"/>
<circle cx="568.88" cy="586.10" r="3.50" fill="#0000f0"/>
<circle cx="590.86" cy="587.80" r="3.50" fill="#0000f0"/>
<circle cx="656.80" cy="586.10" r="3.50" fill="#0000f0"/>
<rect x="653.00" y="582.30" width="7.6" height="7.6" fill="#0000f0"/>
<polyline points="144.10,817.40 166.88,810.10 189.66,805.40 212.44,803.20 280.78,785.00 303.56,776.80 371.90,761.50" fill="none" stroke="#111" stroke-width="1.6" stroke-linejoin="round"/>
<polyline points="144.10,817.40 166.88,810.10 189.66,805.40 212.44,800.60 280.78,781.50 303.56,772.60 371.90,754.50" fill="none" stroke="#1414c8" stroke-width="1.6" stroke-linejoin="round"/>
<rect x="140.60" y="813.90" width="7" height="7" fill="#000"/>
<rect x="163.38" y="806.60" width="7" height="7" fill="#000"/>
<rect x="186.16" y="801.90" width="7" height="7" fill="#000"/>
<rect x="208.94" y="799.70" width="7" height="7" fill="#000"/>
<rect x="277.28" y="781.50" width="7" height="7" fill="#000"/>
<rect x="300.06" y="773.30" width="7" height="7" fill="#000"/>
<rect x="368.40" y="758.00" width="7" height="7" fill="#000"/>
<circle cx="144.10" cy="817.40" r="3.50" fill="#0000f0"/>
<circle cx="166.88" cy="810.10" r="3.50" fill="#0000f0"/>
<circle cx="189.66" cy="805.40" r="3.50" fill="#0000f0"/>
<circle cx="212.44" cy="800.60" r="3.50" fill="#0000f0"/>
<circle cx="280.78" cy="781.50" r="3.50" fill="#0000f0"/>
<circle cx="303.56" cy="772.60" r="3.50" fill="#0000f0"/>
<circle cx="371.90" cy="754.50" r="3.50" fill="#0000f0"/>
<polyline points="442.30,755.50 463.58,761.50 484.86,763.30 569.98,778.80 655.10,784.20" fill="none" stroke="#111" stroke-width="1.6" stroke-linejoin="round"/>
<polyline points="442.30,755.50 463.58,763.30 484.86,764.80 569.98,776.40 655.10,788.60" fill="none" stroke="#1414c8" stroke-width="1.6" stroke-linejoin="round"/>
<rect x="438.80" y="752.00" width="7" height="7" fill="#000"/>
<rect x="460.08" y="758.00" width="7" height="7" fill="#000"/>
<rect x="481.36" y="759.80" width="7" height="7" fill="#000"/>
<rect x="566.48" y="775.30" width="7" height="7" fill="#000"/>
<rect x="651.60" y="780.70" width="7" height="7" fill="#000"/>
<circle cx="442.30" cy="755.50" r="3.50" fill="#0000f0"/>
<circle cx="463.58" cy="763.30" r="3.50" fill="#0000f0"/>
<circle cx="484.86" cy="764.80" r="3.50" fill="#0000f0"/>
<circle cx="569.98" cy="776.40" r="3.50" fill="#0000f0"/>
<circle cx="655.10" cy="788.60" r="3.50" fill="#0000f0"/>
<path d="M566.98,772.3 H572.98 M569.98,772.3 V782 " stroke="#0000f0" stroke-width="1.4" fill="none"/>
<rect x="438.80" y="752.00" width="7" height="7" fill="#0000f0"/>
<text x="214.10" y="80.00" font-size="22.3" font-weight="bold" fill="#000" text-anchor="start" textLength="84.60" lengthAdjust="spacingAndGlyphs" >HCT-116</text>
<text x="506.50" y="76.80" font-size="22.3" font-weight="bold" fill="#000" text-anchor="start" textLength="109.70" lengthAdjust="spacingAndGlyphs" >Fibroblasts</text>
<text x="205.80" y="303.70" font-size="22.3" font-weight="bold" fill="#000" text-anchor="start" textLength="84.40" lengthAdjust="spacingAndGlyphs" >HCT-116</text>
<text x="524.00" y="299.70" font-size="22.3" font-weight="bold" fill="#000" text-anchor="start" textLength="109.80" lengthAdjust="spacingAndGlyphs" >Fibroblasts</text>
<text x="206.80" y="527.60" font-size="22.3" font-weight="bold" fill="#000" text-anchor="start" textLength="84.20" lengthAdjust="spacingAndGlyphs" >HCT-116</text>
<text x="505.20" y="528.30" font-size="22.3" font-weight="bold" fill="#000" text-anchor="start" textLength="109.90" lengthAdjust="spacingAndGlyphs" >Fibroblasts</text>
<text x="201.90" y="756.80" font-size="22.3" font-weight="bold" fill="#000" text-anchor="start" textLength="84.00" lengthAdjust="spacingAndGlyphs" >HCT-116</text>
<text x="552.60" y="733.40" font-size="22.3" font-weight="bold" fill="#000" text-anchor="start" textLength="109.70" lengthAdjust="spacingAndGlyphs" >Fibroblasts</text>
<text x="218.80" y="259.50" font-size="18.5" font-weight="bold" fill="#000" text-anchor="start" textLength="44.60" lengthAdjust="spacingAndGlyphs" >Days</text>
<text x="528.70" y="261.30" font-size="18.5" font-weight="bold" fill="#000" text-anchor="start" textLength="45.40" lengthAdjust="spacingAndGlyphs" >Days</text>
<text x="221.40" y="450.40" font-size="18.5" font-weight="bold" fill="#000" text-anchor="start" textLength="45.40" lengthAdjust="spacingAndGlyphs" >Days</text>
<text x="534.60" y="450.40" font-size="18.5" font-weight="bold" fill="#000" text-anchor="start" textLength="45.40" lengthAdjust="spacingAndGlyphs" >Days</text>
<text x="225.50" y="706.30" font-size="18.5" font-weight="bold" fill="#000" text-anchor="start" textLength="45.00" lengthAdjust="spacingAndGlyphs" >Days</text>
<text x="524.60" y="706.30" font-size="18.5" font-weight="bold" fill="#000" text-anchor="start" textLength="44.90" lengthAdjust="spacingAndGlyphs" >Days</text>
<text x="234.80" y="900.00" font-size="18.5" font-weight="bold" fill="#000" text-anchor="start" textLength="45.20" lengthAdjust="spacingAndGlyphs" >Days</text>
<text x="526.40" y="900.90" font-size="18.5" font-weight="bold" fill="#000" text-anchor="start" textLength="45.00" lengthAdjust="spacingAndGlyphs" >Days</text>
<text transform="translate(88.00,204.30) rotate(-90)" x="0" y="0" font-size="19.2" font-weight="bold" fill="#000" textLength="96.10" lengthAdjust="spacingAndGlyphs" >Area (μm<tspan font-size="12.5" dy="-6.2">2</tspan><tspan dy="6.2">)</tspan></text>
<text transform="translate(390.40,204.70) rotate(-90)" x="0" y="0" font-size="19.2" font-weight="bold" fill="#000" textLength="96.20" lengthAdjust="spacingAndGlyphs" >Area (μm<tspan font-size="12.5" dy="-6.2">2</tspan><tspan dy="6.2">)</tspan></text>
<text transform="translate(87.80,399.20) rotate(-90)" x="0" y="0" font-size="19.2" font-weight="bold" fill="#000" textLength="95.90" lengthAdjust="spacingAndGlyphs" >Area (μm<tspan font-size="12.5" dy="-6.2">2</tspan><tspan dy="6.2">)</tspan></text>
<text transform="translate(392.10,400.40) rotate(-90)" x="0" y="0" font-size="19.2" font-weight="bold" fill="#000" textLength="95.70" lengthAdjust="spacingAndGlyphs" >Area (μm<tspan font-size="12.5" dy="-6.2">2</tspan><tspan dy="6.2">)</tspan></text>
<text transform="translate(92.50,654.30) rotate(-90)" x="0" y="0" font-size="19.2" font-weight="bold" fill="#000" textLength="95.50" lengthAdjust="spacingAndGlyphs" >Area (μm<tspan font-size="12.5" dy="-6.2">2</tspan><tspan dy="6.2">)</tspan></text>
<text transform="translate(388.10,647.00) rotate(-90)" x="0" y="0" font-size="19.2" font-weight="bold" fill="#000" textLength="96.80" lengthAdjust="spacingAndGlyphs" >Area (μm<tspan font-size="12.5" dy="-6.2">2</tspan><tspan dy="6.2">)</tspan></text>
<text transform="translate(94.80,834.80) rotate(-90)" x="0" y="0" font-size="19.2" font-weight="bold" fill="#000" textLength="96.00" lengthAdjust="spacingAndGlyphs" >Area (μm<tspan font-size="12.5" dy="-6.2">2</tspan><tspan dy="6.2">)</tspan></text>
<rect x="380" y="751.60" width="27.6" height="100.60" fill="#fff"/>
<text transform="translate(398.30,849.50) rotate(-90)" x="0" y="0" font-size="19.2" font-weight="bold" fill="#000" textLength="95.70" lengthAdjust="spacingAndGlyphs" >Area (μm<tspan font-size="12.5" dy="-6.2">2</tspan><tspan dy="6.2">)</tspan></text>
<text transform="translate(51.60,225.50) rotate(-90)" x="0" y="0" font-size="19.5" font-weight="bold" fill="#000" textLength="142.80" lengthAdjust="spacingAndGlyphs" >Single exposure</text>
<text transform="translate(53.00,430.50) rotate(-90)" x="0" y="0" font-size="19.5" font-weight="bold" fill="#000" textLength="153.20" lengthAdjust="spacingAndGlyphs" >Double exposure</text>
<text transform="translate(60.80,668.70) rotate(-90)" x="0" y="0" font-size="20.5" font-weight="normal" fill="#000" textLength="139.30" lengthAdjust="spacingAndGlyphs" >Single exposure</text>
<text transform="translate(60.80,878.10) rotate(-90)" x="0" y="0" font-size="20.5" font-weight="normal" fill="#000" textLength="149.50" lengthAdjust="spacingAndGlyphs" >Double exposure</text>
<line x1="667.8" y1="236.4" x2="688.5" y2="236.4" stroke="#000" stroke-width="2"/>
<rect x="674.3" y="232.1" width="8.5" height="9.0" fill="#000"/>
<line x1="667.8" y1="261.0" x2="688.5" y2="261.0" stroke="#0000f0" stroke-width="2"/>
<circle cx="678.3" cy="261.0" r="4.6" fill="#0000f0"/>
<text x="701.80" y="242.80" font-size="16.5" font-weight="normal" fill="#111" text-anchor="start" textLength="54.50" lengthAdjust="spacingAndGlyphs" >Control</text>
<text x="709.40" y="267.80" font-size="16.5" font-weight="normal" fill="#000" text-anchor="start" textLength="24.60" lengthAdjust="spacingAndGlyphs" >NB</text>
<line x1="669.3" y1="599.6" x2="690.7" y2="599.6" stroke="#000" stroke-width="2"/>
<rect x="675.4" y="595.3" width="8.6" height="9.0" fill="#000"/>
<line x1="669.3" y1="623.8" x2="690.7" y2="623.8" stroke="#0000f0" stroke-width="2"/>
<circle cx="680.0" cy="623.8" r="4.6" fill="#0000f0"/>
<text x="703.20" y="605.70" font-size="16.5" font-weight="normal" fill="#111" text-anchor="start" textLength="55.20" lengthAdjust="spacingAndGlyphs" >Control</text>
<text x="710.90" y="631.80" font-size="16.5" font-weight="normal" fill="#000" text-anchor="start" textLength="28.80" lengthAdjust="spacingAndGlyphs" >MB</text>
<rect x="36" y="915" width="730" height="228" fill="#000"/>
<rect x="36" y="915" width="730" height="1" fill="#283450"/>
<rect x="765" y="915" width="1" height="228" fill="#101830"/>
<rect x="184.8" y="918.9" width="452.2" height="98.4" fill="none" stroke="#6e6e6e" stroke-width="1.2"/>
<rect x="184.8" y="1019.4" width="452.2" height="121.6" fill="none" stroke="#6e6e6e" stroke-width="1.2"/>
<text x="68.10" y="983.70" font-size="21" font-weight="bold" fill="#fff" text-anchor="start" textLength="84.10" lengthAdjust="spacingAndGlyphs" >HCT-116</text>
<text x="57.10" y="1090.70" font-size="21.3" font-weight="bold" fill="#fff" text-anchor="start" textLength="110.30" lengthAdjust="spacingAndGlyphs" >Fibroblasts</text>
<text x="207.30" y="942.70" font-size="21" font-weight="normal" fill="#fff" text-anchor="start" textLength="73.40" lengthAdjust="spacingAndGlyphs" >Control</text>
<text x="339.80" y="942.70" font-size="21" font-weight="normal" fill="#fff" text-anchor="start" textLength="29.70" lengthAdjust="spacingAndGlyphs" >NB</text>
<text x="434.50" y="943.10" font-size="21" font-weight="normal" fill="#fff" text-anchor="start" textLength="34.40" lengthAdjust="spacingAndGlyphs" >MB</text>
<text x="542.50" y="944.70" font-size="21" font-weight="normal" fill="#fff" text-anchor="start" textLength="42.20" lengthAdjust="spacingAndGlyphs" >CHX</text>
<text x="222.30" y="1054.80" font-size="21" font-weight="normal" fill="#fff" text-anchor="start" textLength="73.90" lengthAdjust="spacingAndGlyphs" >Control</text>
<text x="391.90" y="1053.00" font-size="21" font-weight="normal" fill="#fff" text-anchor="start" textLength="28.40" lengthAdjust="spacingAndGlyphs" >NB</text>
<text x="540.30" y="1046.10" font-size="21" font-weight="normal" fill="#fff" text-anchor="start" textLength="34.40" lengthAdjust="spacingAndGlyphs" >MB</text>
<g transform="translate(242.6,979.6) rotate(38)" filter="url(#rough)">
<ellipse rx="34.5" ry="28.3" fill="#22cc9c" filter="url(#soft)"/>
<ellipse rx="33.90" ry="27.70" fill="url(#g1)" filter="url(#dm1)"/>
<ellipse rx="33.90" ry="27.70" fill="url(#g1)" filter="url(#dm2)"/>
<ellipse rx="33.90" ry="27.70" fill="rgba(255,255,255,0.42)" filter="url(#dm3)"/>
<ellipse rx="33.90" ry="27.70" fill="rgba(255,255,255,0.3)" filter="url(#dm4)"/>
<ellipse rx="34.5" ry="28.3" fill="url(#vig)"/>
</g>
<g transform="translate(351.2,975.0) rotate(0)" filter="url(#rough)">
<ellipse rx="35.0" ry="29.6" fill="#22cc88" filter="url(#soft)"/>
<ellipse rx="34.40" ry="29.00" fill="url(#g2)" filter="url(#dm5)"/>
<ellipse rx="34.40" ry="29.00" fill="url(#g2)" filter="url(#dm6)"/>
<ellipse rx="34.40" ry="29.00" fill="rgba(255,255,255,0.42)" filter="url(#dm7)"/>
<ellipse rx="34.40" ry="29.00" fill="rgba(255,255,255,0.28)" filter="url(#dm8)"/>
<ellipse rx="35.0" ry="29.6" fill="url(#vig)"/>
</g>
<g transform="translate(451.6,980.0) rotate(0)" filter="url(#rough)">
<ellipse rx="30.2" ry="29.2" fill="#2cdc78" filter="url(#soft)"/>
<ellipse rx="29.60" ry="28.60" fill="url(#g3)" filter="url(#dm9)"/>
<ellipse rx="29.60" ry="28.60" fill="url(#g3)" filter="url(#dm10)"/>
<ellipse rx="29.60" ry="28.60" fill="rgba(255,255,255,0.36)" filter="url(#dm11)"/>
<ellipse rx="30.2" ry="29.2" fill="url(#vig)"/>
<circle cx="-14" cy="3.6" r="2.6" fill="#0c1880"/>
<circle cx="-20" cy="13.4" r="2.2" fill="#0c1880"/>
<circle cx="2" cy="-9" r="1.8" fill="#1a40b0"/>
</g>
<g transform="translate(563.6,982.1) rotate(-12)" filter="url(#rough)">
<ellipse rx="33.2" ry="28.6" fill="#1a32c8" filter="url(#soft)"/>
<ellipse rx="32.60" ry="28.00" fill="rgba(255,255,255,0.52)" filter="url(#dm12)"/>
<ellipse rx="32.60" ry="28.00" fill="rgba(255,255,255,0.34)" filter="url(#dm13)"/>
<ellipse rx="32.60" ry="28.00" fill="rgba(255,255,255,0.32)" filter="url(#dm14)"/>
<ellipse rx="33.2" ry="28.6" fill="url(#vig)"/>
</g>
<g transform="translate(251.6,1099.5) rotate(0)" filter="url(#rough)">
<ellipse rx="24.5" ry="23.2" fill="#2028f0" filter="url(#soft)"/>
<ellipse rx="23.90" ry="22.60" fill="rgba(255,255,255,0.43)" filter="url(#dm15)"/>
<ellipse rx="23.90" ry="22.60" fill="rgba(255,255,255,0.3)" filter="url(#dm16)"/>
<ellipse rx="24.5" ry="23.2" fill="url(#vig)"/>
<ellipse cx="-2.3" cy="2.8" rx="0.9" ry="1.6" fill="#5ef06a" transform="rotate(166 -2.3 2.8)"/>
<ellipse cx="-1.7" cy="0.4" rx="0.9" ry="1.6" fill="#5ef06a" transform="rotate(106 -1.7 0.4)"/>
<ellipse cx="-15.5" cy="0.6" rx="0.9" ry="1.6" fill="#5ef06a" transform="rotate(113 -15.5 0.6)"/>
<ellipse cx="15.2" cy="9.0" rx="0.9" ry="1.6" fill="#5ef06a" transform="rotate(8 15.2 9.0)"/>
<ellipse cx="7.5" cy="5.4" rx="0.9" ry="1.6" fill="#5ef06a" transform="rotate(28 7.5 5.4)"/>
<ellipse cx="-1.8" cy="-2.8" rx="0.9" ry="1.6" fill="#5ef06a" transform="rotate(152 -1.8 -2.8)"/>
<ellipse cx="0.9" cy="6.5" rx="0.9" ry="1.6" fill="#5ef06a" transform="rotate(90 0.9 6.5)"/>
<ellipse cx="8.0" cy="-2.0" rx="0.9" ry="1.6" fill="#5ef06a" transform="rotate(50 8.0 -2.0)"/>
<ellipse cx="16.7" cy="9.6" rx="0.9" ry="1.6" fill="#5ef06a" transform="rotate(57 16.7 9.6)"/>
<ellipse cx="-13.2" cy="-9.8" rx="0.9" ry="1.6" fill="#5ef06a" transform="rotate(13 -13.2 -9.8)"/>
<ellipse cx="13.0" cy="-4.6" rx="0.9" ry="1.6" fill="#5ef06a" transform="rotate(152 13.0 -4.6)"/>
<ellipse cx="-5.0" cy="-19.8" rx="0.9" ry="1.6" fill="#5ef06a" transform="rotate(113 -5.0 -19.8)"/>
<ellipse cx="13.6" cy="-10.7" rx="0.9" ry="1.6" fill="#5ef06a" transform="rotate(16 13.6 -10.7)"/>
<ellipse cx="-15.8" cy="2.8" rx="0.9" ry="1.6" fill="#5ef06a" transform="rotate(81 -15.8 2.8)"/>
<ellipse cx="-15.2" cy="10.8" rx="0.9" ry="1.6" fill="#5ef06a" transform="rotate(24 -15.2 10.8)"/>
<ellipse cx="7.0" cy="-17.8" rx="0.9" ry="1.6" fill="#5ef06a" transform="rotate(76 7.0 -17.8)"/>
<ellipse cx="-14.1" cy="-10.7" rx="0.9" ry="1.6" fill="#5ef06a" transform="rotate(175 -14.1 -10.7)"/>
<ellipse cx="14.9" cy="-9.1" rx="0.9" ry="1.6" fill="#5ef06a" transform="rotate(159 14.9 -9.1)"/>
<ellipse cx="-14.2" cy="-4.9" rx="0.9" ry="1.6" fill="#5ef06a" transform="rotate(154 -14.2 -4.9)"/>
<ellipse cx="6.9" cy="-18.5" rx="0.9" ry="1.6" fill="#5ef06a" transform="rotate(178 6.9 -18.5)"/>
<ellipse cx="-14.1" cy="-11.2" rx="0.9" ry="1.6" fill="#5ef06a" transform="rotate(139 -14.1 -11.2)"/>
<ellipse cx="-8.4" cy="-9.5" rx="0.9" ry="1.6" fill="#5ef06a" transform="rotate(13 -8.4 -9.5)"/>
<ellipse cx="-20.1" cy="3.8" rx="0.9" ry="1.6" fill="#5ef06a" transform="rotate(44 -20.1 3.8)"/>
<ellipse cx="5.0" cy="-6.0" rx="0.9" ry="1.6" fill="#5ef06a" transform="rotate(82 5.0 -6.0)"/>
<ellipse cx="3.7" cy="17.0" rx="0.9" ry="1.6" fill="#5ef06a" transform="rotate(33 3.7 17.0)"/>
<ellipse cx="15.6" cy="-11.6" rx="0.9" ry="1.6" fill="#5ef06a" transform="rotate(34 15.6 -11.6)"/>
<ellipse cx="18.7" cy="4.8" rx="0.9" ry="1.6" fill="#5ef06a" transform="rotate(76 18.7 4.8)"/>
<ellipse cx="10.0" cy="-11.3" rx="0.9" ry="1.6" fill="#5ef06a" transform="rotate(148 10.0 -11.3)"/>
<ellipse cx="4.7" cy="-9.6" rx="0.9" ry="1.6" fill="#5ef06a" transform="rotate(32 4.7 -9.6)"/>
<ellipse cx="-13.3" cy="2.8" rx="0.9" ry="1.6" fill="#5ef06a" transform="rotate(153 -13.3 2.8)"/>
<ellipse cx="5.6" cy="-10.2" rx="0.9" ry="1.6" fill="#5ef06a" transform="rotate(165 5.6 -10.2)"/>
<ellipse cx="-11.3" cy="-2.5" rx="0.9" ry="1.6" fill="#5ef06a" transform="rotate(11 -11.3 -2.5)"/>
<ellipse cx="-15.9" cy="-6.1" rx="0.9" ry="1.6" fill="#5ef06a" transform="rotate(103 -15.9 -6.1)"/>
<ellipse cx="-18.1" cy="-6.4" rx="0.9" ry="1.6" fill="#5ef06a" transform="rotate(160 -18.1 -6.4)"/>
<ellipse cx="9.4" cy="3.9" rx="0.9" ry="1.6" fill="#5ef06a" transform="rotate(25 9.4 3.9)"/>
<ellipse cx="6.7" cy="-0.8" rx="0.9" ry="1.6" fill="#5ef06a" transform="rotate(131 6.7 -0.8)"/>
<ellipse cx="-20.8" cy="2.1" rx="0.9" ry="1.6" fill="#5ef06a" transform="rotate(133 -20.8 2.1)"/>
<ellipse cx="10.0" cy="13.6" rx="0.9" ry="1.6" fill="#5ef06a" transform="rotate(165 10.0 13.6)"/>
<ellipse cx="-7.3" cy="8.6" rx="0.9" ry="1.6" fill="#5ef06a" transform="rotate(162 -7.3 8.6)"/>
<ellipse cx="18.2" cy="-3.8" rx="0.9" ry="1.6" fill="#5ef06a" transform="rotate(142 18.2 -3.8)"/>
</g>
<g transform="translate(363.7,1045.0) rotate(0)" filter="url(#rough)">
<ellipse rx="19.0" ry="23.8" fill="#1a20d8" filter="url(#soft)"/>
<ellipse rx="18.40" ry="23.20" fill="rgba(255,255,255,0.43)" filter="url(#dm17)"/>
<ellipse rx="18.40" ry="23.20" fill="rgba(255,255,255,0.3)" filter="url(#dm18)"/>
<ellipse rx="19.0" ry="23.8" fill="url(#vig)"/>
<ellipse cx="13.8" cy="3.5" rx="0.9" ry="1.6" fill="#5ef06a" transform="rotate(112 13.8 3.5)"/>
<ellipse cx="-4.5" cy="3.9" rx="0.9" ry="1.6" fill="#5ef06a" transform="rotate(110 -4.5 3.9)"/>
<ellipse cx="-16.0" cy="6.6" rx="0.9" ry="1.6" fill="#5ef06a" transform="rotate(179 -16.0 6.6)"/>
<ellipse cx="14.4" cy="10.9" rx="0.9" ry="1.6" fill="#5ef06a" transform="rotate(70 14.4 10.9)"/>
<ellipse cx="8.9" cy="3.9" rx="0.9" ry="1.6" fill="#5ef06a" transform="rotate(79 8.9 3.9)"/>
<ellipse cx="3.8" cy="-0.9" rx="0.9" ry="1.6" fill="#5ef06a" transform="rotate(41 3.8 -0.9)"/>
</g>
<g transform="translate(392.5,1112.0) rotate(0)" filter="url(#rough)">
<ellipse rx="23.0" ry="23.0" fill="#2028f0" filter="url(#soft)"/>
<ellipse rx="22.40" ry="22.40" fill="rgba(255,255,255,0.43)" filter="url(#dm19)"/>
<ellipse rx="22.40" ry="22.40" fill="rgba(255,255,255,0.3)" filter="url(#dm20)"/>
<ellipse rx="23.0" ry="23.0" fill="url(#vig)"/>
<ellipse cx="9.1" cy="-0.1" rx="0.9" ry="1.6" fill="#5ef06a" transform="rotate(111 9.1 -0.1)"/>
<ellipse cx="8.2" cy="-13.7" rx="0.9" ry="1.6" fill="#5ef06a" transform="rotate(31 8.2 -13.7)"/>
<ellipse cx="18.7" cy="7.4" rx="0.9" ry="1.6" fill="#5ef06a" transform="rotate(80 18.7 7.4)"/>
<ellipse cx="18.0" cy="-8.0" rx="0.9" ry="1.6" fill="#5ef06a" transform="rotate(120 18.0 -8.0)"/>
<ellipse cx="-13.9" cy="-3.2" rx="0.9" ry="1.6" fill="#5ef06a" transform="rotate(145 -13.9 -3.2)"/>
<ellipse cx="-5.3" cy="3.8" rx="0.9" ry="1.6" fill="#5ef06a" transform="rotate(57 -5.3 3.8)"/>
<ellipse cx="-16.7" cy="-0.2" rx="0.9" ry="1.6" fill="#5ef06a" transform="rotate(151 -16.7 -0.2)"/>
<ellipse cx="16.0" cy="9.7" rx="0.9" ry="1.6" fill="#5ef06a" transform="rotate(171 16.0 9.7)"/>
<ellipse cx="-10.3" cy="-15.2" rx="0.9" ry="1.6" fill="#5ef06a" transform="rotate(81 -10.3 -15.2)"/>
<ellipse cx="-10.3" cy="-13.2" rx="0.9" ry="1.6" fill="#5ef06a" transform="rotate(75 -10.3 -13.2)"/>
<ellipse cx="5.8" cy="-0.3" rx="0.9" ry="1.6" fill="#5ef06a" transform="rotate(57 5.8 -0.3)"/>
<ellipse cx="-2.2" cy="-19.6" rx="0.9" ry="1.6" fill="#5ef06a" transform="rotate(6 -2.2 -19.6)"/>
<ellipse cx="9.6" cy="3.2" rx="0.9" ry="1.6" fill="#5ef06a" transform="rotate(56 9.6 3.2)"/>
<ellipse cx="-16.7" cy="-2.1" rx="0.9" ry="1.6" fill="#5ef06a" transform="rotate(4 -16.7 -2.1)"/>
<ellipse cx="15.2" cy="-12.1" rx="0.9" ry="1.6" fill="#5ef06a" transform="rotate(25 15.2 -12.1)"/>
<ellipse cx="-2.5" cy="6.0" rx="0.9" ry="1.6" fill="#5ef06a" transform="rotate(118 -2.5 6.0)"/>
<ellipse cx="8.5" cy="-13.8" rx="0.9" ry="1.6" fill="#5ef06a" transform="rotate(86 8.5 -13.8)"/>
<ellipse cx="-1.3" cy="9.9" rx="0.9" ry="1.6" fill="#5ef06a" transform="rotate(32 -1.3 9.9)"/>
<ellipse cx="-10.5" cy="-7.1" rx="0.9" ry="1.6" fill="#5ef06a" transform="rotate(126 -10.5 -7.1)"/>
<ellipse cx="0.9" cy="5.3" rx="0.9" ry="1.6" fill="#5ef06a" transform="rotate(136 0.9 5.3)"/>
</g>
<g transform="translate(439.4,1058.0) rotate(0)" filter="url(#rough)">
<ellipse rx="21.6" ry="24.0" fill="#1a20d8" filter="url(#soft)"/>
<ellipse rx="21.00" ry="23.40" fill="rgba(255,255,255,0.43)" filter="url(#dm21)"/>
<ellipse rx="21.00" ry="23.40" fill="rgba(255,255,255,0.3)" filter="url(#dm22)"/>
<ellipse rx="21.6" ry="24.0" fill="url(#vig)"/>
<ellipse cx="-4.6" cy="14.0" rx="0.9" ry="1.6" fill="#70e890" transform="rotate(163 -4.6 14.0)"/>
<ellipse cx="9.6" cy="-17.8" rx="0.9" ry="1.6" fill="#70e890" transform="rotate(82 9.6 -17.8)"/>
<ellipse cx="5.4" cy="19.7" rx="0.9" ry="1.6" fill="#70e890" transform="rotate(68 5.4 19.7)"/>
<ellipse cx="3.0" cy="18.2" rx="0.9" ry="1.6" fill="#70e890" transform="rotate(143 3.0 18.2)"/>
<ellipse cx="19.2" cy="-1.7" rx="0.9" ry="1.6" fill="#70e890" transform="rotate(117 19.2 -1.7)"/>
<ellipse cx="-12.7" cy="10.7" rx="0.9" ry="1.6" fill="#70e890" transform="rotate(147 -12.7 10.7)"/>
<ellipse cx="6.1" cy="10.4" rx="0.9" ry="1.6" fill="#70e890" transform="rotate(38 6.1 10.4)"/>
<ellipse cx="12.6" cy="-8.6" rx="0.9" ry="1.6" fill="#70e890" transform="rotate(164 12.6 -8.6)"/>
<ellipse cx="15.4" cy="-7.3" rx="0.9" ry="1.6" fill="#70e890" transform="rotate(15 15.4 -7.3)"/>
<ellipse cx="-2.6" cy="2.4" rx="0.9" ry="1.6" fill="#70e890" transform="rotate(138 -2.6 2.4)"/>
</g>
<g transform="translate(553.6,1079.0) rotate(0)" filter="url(#rough)">
<ellipse rx="35.0" ry="29.4" fill="#2430f8" filter="url(#soft)"/>
<ellipse rx="34.40" ry="28.80" fill="rgba(255,255,255,0.43)" filter="url(#dm23)"/>
<ellipse rx="34.40" ry="28.80" fill="rgba(255,255,255,0.3)" filter="url(#dm24)"/>
<ellipse rx="35.0" ry="29.4" fill="url(#vig)"/>
<ellipse cx="21.0" cy="-19.2" rx="0.9" ry="1.6" fill="#80f0b0" transform="rotate(60 21.0 -19.2)"/>
<ellipse cx="-24.6" cy="1.0" rx="0.9" ry="1.6" fill="#80f0b0" transform="rotate(130 -24.6 1.0)"/>
<ellipse cx="23.8" cy="11.1" rx="0.9" ry="1.6" fill="#80f0b0" transform="rotate(170 23.8 11.1)"/>
<ellipse cx="1.9" cy="-12.3" rx="0.9" ry="1.6" fill="#80f0b0" transform="rotate(131 1.9 -12.3)"/>
<ellipse cx="9.7" cy="1.3" rx="0.9" ry="1.6" fill="#80f0b0" transform="rotate(152 9.7 1.3)"/>
<ellipse cx="4.2" cy="-11.1" rx="0.9" ry="1.6" fill="#80f0b0" transform="rotate(69 4.2 -11.1)"/>
<ellipse cx="5.1" cy="-17.6" rx="0.9" ry="1.6" fill="#80f0b0" transform="rotate(96 5.1 -17.6)"/>
<ellipse cx="0.2" cy="6.2" rx="0.9" ry="1.6" fill="#80f0b0" transform="rotate(5 0.2 6.2)"/>
<ellipse cx="-7.0" cy="17.7" rx="0.9" ry="1.6" fill="#80f0b0" transform="rotate(101 -7.0 17.7)"/>
<ellipse cx="-0.6" cy="11.2" rx="0.9" ry="1.6" fill="#80f0b0" transform="rotate(12 -0.6 11.2)"/>
<ellipse cx="2.7" cy="-5.1" rx="0.9" ry="1.6" fill="#80f0b0" transform="rotate(172 2.7 -5.1)"/>
<ellipse cx="-1.9" cy="-21.9" rx="0.9" ry="1.6" fill="#80f0b0" transform="rotate(78 -1.9 -21.9)"/>
<ellipse cx="-1.6" cy="-10.7" rx="0.9" ry="1.6" fill="#80f0b0" transform="rotate(34 -1.6 -10.7)"/>
<ellipse cx="8.3" cy="25.0" rx="0.9" ry="1.6" fill="#80f0b0" transform="rotate(23 8.3 25.0)"/>
<ellipse cx="-21.4" cy="-16.0" rx="0.9" ry="1.6" fill="#80f0b0" transform="rotate(124 -21.4 -16.0)"/>
<ellipse cx="-12.5" cy="-8.5" rx="0.9" ry="1.6" fill="#80f0b0" transform="rotate(112 -12.5 -8.5)"/>
<ellipse cx="-26.4" cy="0.6" rx="0.9" ry="1.6" fill="#80f0b0" transform="rotate(45 -26.4 0.6)"/>
<ellipse cx="-21.2" cy="1.8" rx="0.9" ry="1.6" fill="#80f0b0" transform="rotate(79 -21.2 1.8)"/>
<ellipse cx="-8.7" cy="-5.1" rx="0.9" ry="1.6" fill="#80f0b0" transform="rotate(95 -8.7 -5.1)"/>
<ellipse cx="9.2" cy="8.1" rx="0.9" ry="1.6" fill="#80f0b0" transform="rotate(95 9.2 8.1)"/>
<ellipse cx="24.6" cy="6.6" rx="0.9" ry="1.6" fill="#80f0b0" transform="rotate(154 24.6 6.6)"/>
<ellipse cx="-18.7" cy="14.2" rx="0.9" ry="1.6" fill="#80f0b0" transform="rotate(146 -18.7 14.2)"/>
<ellipse cx="28.2" cy="-10.8" rx="0.9" ry="1.6" fill="#80f0b0" transform="rotate(57 28.2 -10.8)"/>
<ellipse cx="15.9" cy="-14.1" rx="0.9" ry="1.6" fill="#80f0b0" transform="rotate(17 15.9 -14.1)"/>
<ellipse cx="23.3" cy="-4.6" rx="0.9" ry="1.6" fill="#80f0b0" transform="rotate(142 23.3 -4.6)"/>
<ellipse cx="-26.2" cy="-5.7" rx="0.9" ry="1.6" fill="#80f0b0" transform="rotate(123 -26.2 -5.7)"/>
<ellipse cx="0.4" cy="15.2" rx="0.9" ry="1.6" fill="#80f0b0" transform="rotate(91 0.4 15.2)"/>
<ellipse cx="13.0" cy="-18.3" rx="0.9" ry="1.6" fill="#80f0b0" transform="rotate(13 13.0 -18.3)"/>
<ellipse cx="3.6" cy="0.9" rx="0.9" ry="1.6" fill="#80f0b0" transform="rotate(102 3.6 0.9)"/>
<ellipse cx="18.5" cy="-10.2" rx="0.9" ry="1.6" fill="#80f0b0" transform="rotate(84 18.5 -10.2)"/>
</g>
<rect x="256.1" y="1008.8" width="27.7" height="3" fill="#f4f4f4"/>
<rect x="359.0" y="1008.8" width="27.7" height="3" fill="#f4f4f4"/>
<rect x="462.9" y="1009.5" width="27.4" height="3" fill="#f4f4f4"/>
<rect x="586.1" y="1008.8" width="28.1" height="3" fill="#f4f4f4"/>
<rect x="262.5" y="1133.3" width="36.7" height="3" fill="#f4f4f4"/>
<rect x="417.1" y="1131.2" width="35.8" height="3" fill="#f4f4f4"/>
<rect x="552.5" y="1133.3" width="35.8" height="3" fill="#f4f4f4"/>
<rect x="586.8" y="941.8" width="21.2" height="3" fill="#1a28d0"/>
<defs><filter id="rough" x="-15%" y="-15%" width="130%" height="130%"><feTurbulence type="fractalNoise" baseFrequency="0.18" numOctaves="2" seed="4" result="t"/><feDisplacementMap in="SourceGraphic" in2="t" scale="2.6" xChannelSelector="R" yChannelSelector="G"/></filter><radialGradient id="vig"><stop offset="0.7" stop-color="#000" stop-opacity="0"/><stop offset="1" stop-color="#000" stop-opacity="0.35"/></radialGradient><filter id="soft" x="-10%" y="-10%" width="120%" height="120%"><feGaussianBlur stdDeviation="0.9"/></filter><linearGradient id="g1" x1="0.2" y1="0.8" x2="0.8" y2="0.2"><stop offset="0" stop-color="#fff" stop-opacity="0.5"/><stop offset="1" stop-color="#fff" stop-opacity="0.3"/></linearGradient><filter id="dm1" x="-5%" y="-5%" width="110%" height="110%" color-interpolation-filters="sRGB"><feTurbulence type="fractalNoise" baseFrequency="0.14" numOctaves="2" seed="3" result="n"/><feColorMatrix in="n" type="matrix" values="0 0 0 0 0  0 0 0 0 0  0 0 0 0 0  1 0 0 0 0" result="na"/><feComposite in="SourceAlpha" in2="na" operator="arithmetic" k1="0" k2="5" k3="5" k4="-4.500" result="m"/><feFlood flood-color="#1a9cc8"/><feComposite in2="m" operator="in"/></filter><filter id="dm2" x="-5%" y="-5%" width="110%" height="110%" color-interpolation-filters="sRGB"><feTurbulence type="fractalNoise" baseFrequency="0.12" numOctaves="2" seed="4" result="n"/><feColorMatrix in="n" type="matrix" values="0 0 0 0 0  0 0 0 0 0  0 0 0 0 0  1 0 0 0 0" result="na"/><feComposite in="SourceAlpha" in2="na" operator="arithmetic" k1="0" k2="6" k3="6" k4="-6.000" result="m"/><feFlood flood-color="#1244b4"/><feComposite in2="m" operator="in"/></filter><filter id="dm3" x="-5%" y="-5%" width="110%" height="110%" color-interpolation-filters="sRGB"><feTurbulence type="fractalNoise" baseFrequency="0.45" numOctaves="2" seed="5" result="n"/><feColorMatrix in="n" type="matrix" values="0 0 0 0 0  0 0 0 0 0  0 0 0 0 0  1 0 0 0 0" result="na"/><feComposite in="SourceAlpha" in2="na" operator="arithmetic" k1="0" k2="4" k3="4" k4="-3.600" result="m"/><feFlood flood-color="#30e49a"/><feComposite in2="m" operator="in"/></filter><filter id="dm4" x="-5%" y="-5%" width="110%" height="110%" color-interpolation-filters="sRGB"><feTurbulence type="fractalNoise" baseFrequency="0.7" numOctaves="2" seed="6" result="n"/><feColorMatrix in="n" type="matrix" values="0 0 0 0 0  0 0 0 0 0  0 0 0 0 0  1 0 0 0 0" result="na"/><feComposite in="SourceAlpha" in2="na" operator="arithmetic" k1="0" k2="4" k3="4" k4="-3.600" result="m"/><feFlood flood-color="#0c8c88"/><feComposite in2="m" operator="in"/></filter><linearGradient id="g2" x1="0.2" y1="0.8" x2="0.85" y2="0.15"><stop offset="0" stop-color="#fff" stop-opacity="0.2"/><stop offset="1" stop-color="#fff" stop-opacity="0.64"/></linearGradient><filter id="dm5" x="-5%" y="-5%" width="110%" height="110%" color-interpolation-filters="sRGB"><feTurbulence type="fractalNoise" baseFrequency="0.3" numOctaves="2" seed="7" result="n"/><feColorMatrix in="n" type="matrix" values="0 0 0 0 0  0 0 0 0 0  0 0 0 0 0  1 0 0 0 0" result="na"/><feComposite in="SourceAlpha" in2="na" operator="arithmetic" k1="0" k2="5" k3="5" k4="-4.500" result="m"/><feFlood flood-color="#1890b0"/><feComposite in2="m" operator="in"/></filter><filter id="dm6" x="-5%" y="-5%" width="110%" height="110%" color-interpolation-filters="sRGB"><feTurbulence type="fractalNoise" baseFrequency="0.25" numOctaves="2" seed="8" result="n"/><feColorMatrix in="n" type="matrix" values="0 0 0 0 0  0 0 0 0 0  0 0 0 0 0  1 0 0 0 0" result="na"/><feComposite in="SourceAlpha" in2="na" operator="arithmetic" k1="0" k2="6" k3="6" k4="-5.880" result="m"/><feFlood flood-color="#1448b4"/><feComposite in2="m" operator="in"/></filter><filter id="dm7" x="-5%" y="-5%" width="110%" height="110%" color-interpolation-filters="sRGB"><feTurbulence type="fractalNoise" baseFrequency="0.45" numOctaves="2" seed="9" result="n"/><feColorMatrix in="n" type="matrix" values="0 0 0 0 0  0 0 0 0 0  0 0 0 0 0  1 0 0 0 0" result="na"/><feComposite in="SourceAlpha" in2="na" operator="arithmetic" k1="0" k2="4" k3="4" k4="-3.600" result="m"/><feFlood flood-color="#34e490"/><feComposite in2="m" operator="in"/></filter><filter id="dm8" x="-5%" y="-5%" width="110%" height="110%" color-interpolation-filters="sRGB"><feTurbulence type="fractalNoise" baseFrequency="0.7" numOctaves="2" seed="10" result="n"/><feColorMatrix in="n" type="matrix" values="0 0 0 0 0  0 0 0 0 0  0 0 0 0 0  1 0 0 0 0" result="na"/><feComposite in="SourceAlpha" in2="na" operator="arithmetic" k1="0" k2="4" k3="4" k4="-3.600" result="m"/><feFlood flood-color="#0c8050"/><feComposite in2="m" operator="in"/></filter><radialGradient id="g3" cx="0.5" cy="0.5" r="0.5"><stop offset="0" stop-color="#fff" stop-opacity="0.6"/><stop offset="1" stop-color="#fff" stop-opacity="0.26"/></radialGradient><filter id="dm9" x="-5%" y="-5%" width="110%" height="110%" color-interpolation-filters="sRGB"><feTurbulence type="fractalNoise" baseFrequency="0.25" numOctaves="2" seed="11" result="n"/><feColorMatrix in="n" type="matrix" values="0 0 0 0 0  0 0 0 0 0  0 0 0 0 0  1 0 0 0 0" result="na"/><feComposite in="SourceAlpha" in2="na" operator="arithmetic" k1="0" k2="6" k3="6" k4="-5.160" result="m"/><feFlood flood-color="#20b8c4"/><feComposite in2="m" operator="in"/></filter><filter id="dm10" x="-5%" y="-5%" width="110%" height="110%" color-interpolation-filters="sRGB"><feTurbulence type="fractalNoise" baseFrequency="0.3" numOctaves="2" seed="13" result="n"/><feColorMatrix in="n" type="matrix" values="0 0 0 0 0  0 0 0 0 0  0 0 0 0 0  1 0 0 0 0" result="na"/><feComposite in="SourceAlpha" in2="na" operator="arithmetic" k1="0" k2="6" k3="6" k4="-6.120" result="m"/><feFlood flood-color="#1660bc"/><feComposite in2="m" operator="in"/></filter><filter id="dm11" x="-5%" y="-5%" width="110%" height="110%" color-interpolation-filters="sRGB"><feTurbulence type="fractalNoise" baseFrequency="0.45" numOctaves="2" seed="14" result="n"/><feColorMatrix in="n" type="matrix" values="0 0 0 0 0  0 0 0 0 0  0 0 0 0 0  1 0 0 0 0" result="na"/><feComposite in="SourceAlpha" in2="na" operator="arithmetic" k1="0" k2="4" k3="4" k4="-3.600" result="m"/><feFlood flood-color="#40e880"/><feComposite in2="m" operator="in"/></filter><filter id="dm12" x="-5%" y="-5%" width="110%" height="110%" color-interpolation-filters="sRGB"><feTurbulence type="fractalNoise" baseFrequency="0.12" numOctaves="2" seed="17" result="n"/><feColorMatrix in="n" type="matrix" values="0 0 0 0 0  0 0 0 0 0  0 0 0 0 0  1 0 0 0 0" result="na"/><feComposite in="SourceAlpha" in2="na" operator="arithmetic" k1="0" k2="5" k3="5" k4="-4.500" result="m"/><feFlood flood-color="#0c1888"/><feComposite in2="m" operator="in"/></filter><filter id="dm13" x="-5%" y="-5%" width="110%" height="110%" color-interpolation-filters="sRGB"><feTurbulence type="fractalNoise" baseFrequency="0.55" numOctaves="2" seed="19" result="n"/><feColorMatrix in="n" type="matrix" values="0 0 0 0 0  0 0 0 0 0  0 0 0 0 0  1 0 0 0 0" result="na"/><feComposite in="SourceAlpha" in2="na" operator="arithmetic" k1="0" k2="6" k3="6" k4="-5.400" result="m"/><feFlood flood-color="#3a78d8"/><feComposite in2="m" operator="in"/></filter><filter id="dm14" x="-5%" y="-5%" width="110%" height="110%" color-interpolation-filters="sRGB"><feTurbulence type="fractalNoise" baseFrequency="0.5" numOctaves="2" seed="23" result="n"/><feColorMatrix in="n" type="matrix" values="0 0 0 0 0  0 0 0 0 0  0 0 0 0 0  1 0 0 0 0" result="na"/><feComposite in="SourceAlpha" in2="na" operator="arithmetic" k1="0" k2="6" k3="6" k4="-5.400" result="m"/><feFlood flood-color="#40c8b0"/><feComposite in2="m" operator="in"/></filter><filter id="dm15" x="-5%" y="-5%" width="110%" height="110%" color-interpolation-filters="sRGB"><feTurbulence type="fractalNoise" baseFrequency="0.13" numOctaves="2" seed="31" result="n"/><feColorMatrix in="n" type="matrix" values="0 0 0 0 0  0 0 0 0 0  0 0 0 0 0  1 0 0 0 0" result="na"/><feComposite in="SourceAlpha" in2="na" operator="arithmetic" k1="0" k2="4" k3="4" k4="-3.600" result="m"/><feFlood flood-color="#0a0c90"/><feComposite in2="m" operator="in"/></filter><filter id="dm16" x="-5%" y="-5%" width="110%" height="110%" color-interpolation-filters="sRGB"><feTurbulence type="fractalNoise" baseFrequency="0.5" numOctaves="2" seed="32" result="n"/><feColorMatrix in="n" type="matrix" values="0 0 0 0 0  0 0 0 0 0  0 0 0 0 0  1 0 0 0 0" result="na"/><feComposite in="SourceAlpha" in2="na" operator="arithmetic" k1="0" k2="5" k3="5" k4="-4.500" result="m"/><feFlood flood-color="#3a50ff"/><feComposite in2="m" operator="in"/></filter><filter id="dm17" x="-5%" y="-5%" width="110%" height="110%" color-interpolation-filters="sRGB"><feTurbulence type="fractalNoise" baseFrequency="0.13" numOctaves="2" seed="33" result="n"/><feColorMatrix in="n" type="matrix" values="0 0 0 0 0  0 0 0 0 0  0 0 0 0 0  1 0 0 0 0" result="na"/><feComposite in="SourceAlpha" in2="na" operator="arithmetic" k1="0" k2="4" k3="4" k4="-3.600" result="m"/><feFlood flood-color="#0a0c90"/><feComposite in2="m" operator="in"/></filter><filter id="dm18" x="-5%" y="-5%" width="110%" height="110%" color-interpolation-filters="sRGB"><feTurbulence type="fractalNoise" baseFrequency="0.5" numOctaves="2" seed="34" result="n"/><feColorMatrix in="n" type="matrix" values="0 0 0 0 0  0 0 0 0 0  0 0 0 0 0  1 0 0 0 0" result="na"/><feComposite in="SourceAlpha" in2="na" operator="arithmetic" k1="0" k2="5" k3="5" k4="-4.500" result="m"/><feFlood flood-color="#3a50ff"/><feComposite in2="m" operator="in"/></filter><filter id="dm19" x="-5%" y="-5%" width="110%" height="110%" color-interpolation-filters="sRGB"><feTurbulence type="fractalNoise" baseFrequency="0.13" numOctaves="2" seed="35" result="n"/><feColorMatrix in="n" type="matrix" values="0 0 0 0 0  0 0 0 0 0  0 0 0 0 0  1 0 0 0 0" result="na"/><feComposite in="SourceAlpha" in2="na" operator="arithmetic" k1="0" k2="4" k3="4" k4="-3.600" result="m"/><feFlood flood-color="#0a0c90"/><feComposite in2="m" operator="in"/></filter><filter id="dm20" x="-5%" y="-5%" width="110%" height="110%" color-interpolation-filters="sRGB"><feTurbulence type="fractalNoise" baseFrequency="0.5" numOctaves="2" seed="36" result="n"/><feColorMatrix in="n" type="matrix" values="0 0 0 0 0  0 0 0 0 0  0 0 0 0 0  1 0 0 0 0" result="na"/><feComposite in="SourceAlpha" in2="na" operator="arithmetic" k1="0" k2="5" k3="5" k4="-4.500" result="m"/><feFlood flood-color="#3a50ff"/><feComposite in2="m" operator="in"/></filter><filter id="dm21" x="-5%" y="-5%" width="110%" height="110%" color-interpolation-filters="sRGB"><feTurbulence type="fractalNoise" baseFrequency="0.13" numOctaves="2" seed="37" result="n"/><feColorMatrix in="n" type="matrix" values="0 0 0 0 0  0 0 0 0 0  0 0 0 0 0  1 0 0 0 0" result="na"/><feComposite in="SourceAlpha" in2="na" operator="arithmetic" k1="0" k2="4" k3="4" k4="-3.600" result="m"/><feFlood flood-color="#0a0c90"/><feComposite in2="m" operator="in"/></filter><filter id="dm22" x="-5%" y="-5%" width="110%" height="110%" color-interpolation-filters="sRGB"><feTurbulence type="fractalNoise" baseFrequency="0.5" numOctaves="2" seed="38" result="n"/><feColorMatrix in="n" type="matrix" values="0 0 0 0 0  0 0 0 0 0  0 0 0 0 0  1 0 0 0 0" result="na"/><feComposite in="SourceAlpha" in2="na" operator="arithmetic" k1="0" k2="5" k3="5" k4="-4.500" result="m"/><feFlood flood-color="#3a50ff"/><feComposite in2="m" operator="in"/></filter><filter id="dm23" x="-5%" y="-5%" width="110%" height="110%" color-interpolation-filters="sRGB"><feTurbulence type="fractalNoise" baseFrequency="0.13" numOctaves="2" seed="39" result="n"/><feColorMatrix in="n" type="matrix" values="0 0 0 0 0  0 0 0 0 0  0 0 0 0 0  1 0 0 0 0" result="na"/><feComposite in="SourceAlpha" in2="na" operator="arithmetic" k1="0" k2="4" k3="4" k4="-3.600" result="m"/><feFlood flood-color="#0a0c90"/><feComposite in2="m" operator="in"/></filter><filter id="dm24" x="-5%" y="-5%" width="110%" height="110%" color-interpolation-filters="sRGB"><feTurbulence type="fractalNoise" baseFrequency="0.5" numOctaves="2" seed="40" result="n"/><feColorMatrix in="n" type="matrix" values="0 0 0 0 0  0 0 0 0 0  0 0 0 0 0  1 0 0 0 0" result="na"/><feComposite in="SourceAlpha" in2="na" operator="arithmetic" k1="0" k2="5" k3="5" k4="-4.500" result="m"/><feFlood flood-color="#3a50ff"/><feComposite in2="m" operator="in"/></filter></defs>
</svg></body></html>
